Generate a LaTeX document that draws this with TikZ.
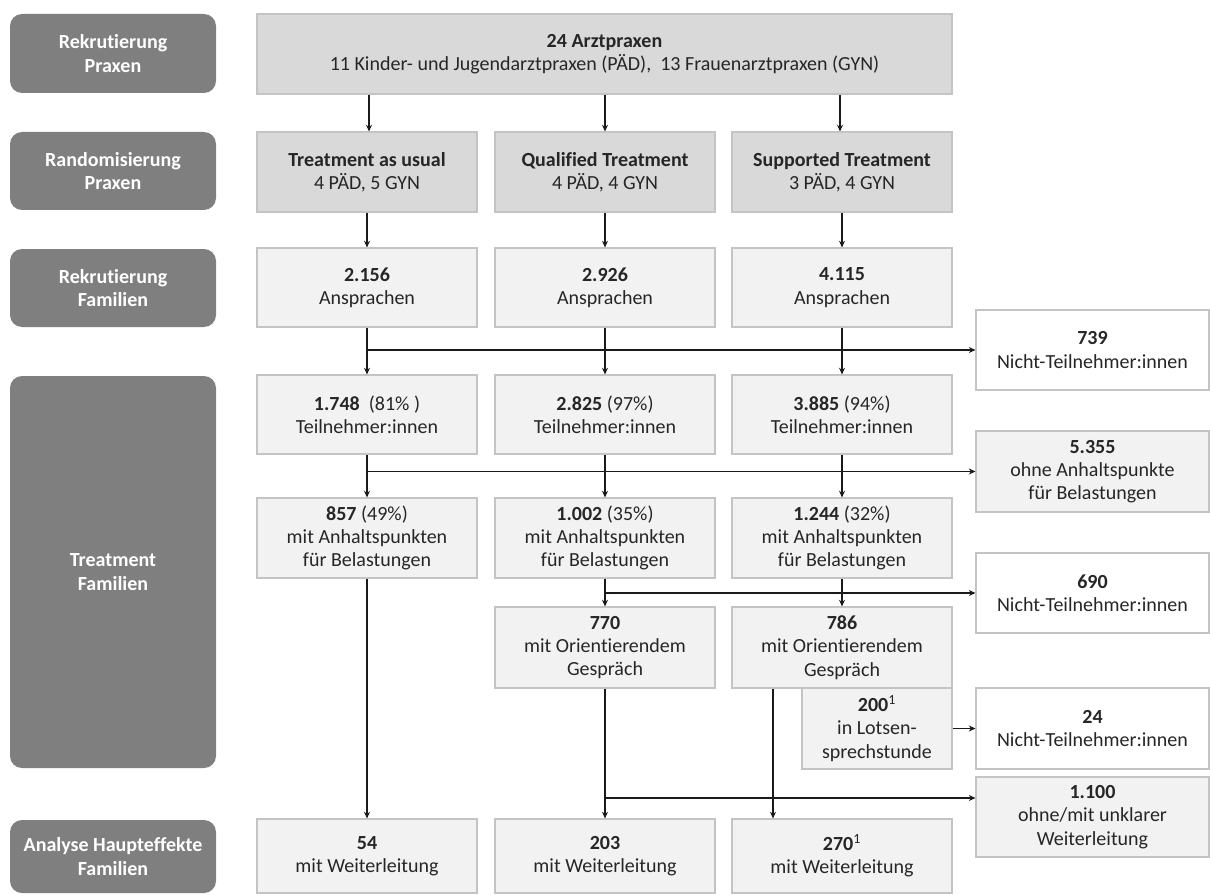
\documentclass[tikz,border=0pt]{standalone}
\usepackage{fontspec}
\setmainfont{Carlito}[Ligatures=NoCommon]
\usetikzlibrary{arrows.meta,calc}
\definecolor{lbl}{HTML}{7F7F7F}
\definecolor{dk}{HTML}{D9D9D9}
\definecolor{lt}{HTML}{F2F2F2}
\definecolor{bd}{HTML}{C4C4C4}
\definecolor{txt}{HTML}{262626}
\definecolor{ln}{HTML}{1A1A1A}
\tikzset{
  base/.style={draw=bd, line width=0.8pt, inner sep=0pt, align=center, text=txt,
    font=\fontsize{15}{17.5}\selectfont},
  lblbox/.style={fill=lbl, draw=none, rounded corners=9pt, inner sep=0pt, align=center,
    text=white, font=\fontsize{15}{17.5}\selectfont\bfseries, minimum width=154.5pt},
  dkbox/.style={base, fill=dk},
  ltbox/.style={base, fill=lt},
  whbox/.style={base, fill=white},
  colw/.style={minimum width=165pt},
  arr/.style={draw=ln, line width=0.9pt, -{Stealth[length=5pt,width=4.5pt]}},
  plain/.style={draw=ln, line width=0.9pt}
}
\begin{document}
\begin{tikzpicture}[x=0.75pt,y=-0.75pt]
\useasboundingbox (0,0) rectangle (1210,895);
% left labels
\node[lblbox, minimum height=59.25pt] (L1) at (113,53.5) {Rekrutierung\\Praxen};
\node[lblbox, minimum height=58.5pt] (L2) at (113,171) {Randomisierung\\Praxen};
\node[lblbox, minimum height=58.5pt] (L3) at (113,288) {Rekrutierung\\Familien};
\node[lblbox, minimum height=294pt] (L4) at (113,572) {Treatment\\Familien};
\node[lblbox, minimum height=54.75pt] (L5) at (113,856.5) {Analyse Haupteffekte\\Familien};
% top
\node[dkbox, minimum width=521.25pt, minimum height=60pt] (top) at (604.5,54)
  {\textbf{24 Arztpraxen}\\11 Kinder- und Jugendarztpraxen (PÄD),\ \ 13 Frauenarztpraxen (GYN)};
% row 2
\node[dkbox, colw, minimum height=60pt] (a2) at (367,172) {\textbf{Treatment as usual}\\4 PÄD, 5 GYN};
\node[dkbox, colw, minimum height=60pt] (b2) at (605,172) {\textbf{Qualified Treatment}\\4 PÄD, 4 GYN};
\node[dkbox, colw, minimum height=60pt] (c2) at (842,172) {\textbf{Supported Treatment}\\3 PÄD, 4 GYN};
% row 3
\node[ltbox, colw, minimum height=59.25pt] (a3) at (367,287.5) {\textbf{2.156}\\Ansprachen};
\node[ltbox, colw, minimum height=59.25pt] (b3) at (605,287.5) {\textbf{2.926}\\Ansprachen};
\node[ltbox, colw, minimum height=59.25pt] (c3) at (842,287.5) {\textbf{4.115}\\Ansprachen};
\node[whbox, minimum width=174.75pt, minimum height=60pt] (r739) at (1092.5,350) {\textbf{739}\\Nicht-Teilnehmer:innen};
% row 4
\node[ltbox, colw, minimum height=59.25pt] (a4) at (367,414.5) {\textbf{1.748}\ \ (81\% )\\Teilnehmer:innen};
\node[ltbox, colw, minimum height=59.25pt] (b4) at (605,414.5) {\textbf{2.825} (97\%)\\Teilnehmer:innen};
\node[ltbox, colw, minimum height=59.25pt] (c4) at (842,414.5) {\textbf{3.885} (94\%)\\Teilnehmer:innen};
\node[ltbox, minimum width=174.75pt, minimum height=60.75pt] (r5355) at (1092.5,471.5) {\textbf{5.355}\\ohne Anhaltspunkte\\für Belastungen};
% row 5
\node[ltbox, colw, minimum height=60pt] (a5) at (367,538) {\textbf{857} (49\%)\\mit Anhaltspunkten\\für Belastungen};
\node[ltbox, colw, minimum height=60pt] (b5) at (605,538) {\textbf{1.002} (35\%)\\mit Anhaltspunkten\\für Belastungen};
\node[ltbox, colw, minimum height=60pt] (c5) at (842,538) {\textbf{1.244} (32\%)\\mit Anhaltspunkten\\für Belastungen};
\node[whbox, minimum width=174.75pt, minimum height=60pt] (r690) at (1092.5,593) {\textbf{690}\\Nicht-Teilnehmer:innen};
% row 6
\node[ltbox, colw, minimum height=60.75pt] (b6) at (605,647.5) {\textbf{770}\\mit Orientierendem\\Gespräch};
\node[ltbox, colw, minimum height=60.75pt] (c6) at (842,647.5) {\textbf{786}\\mit Orientierendem\\Gespräch};
\node[ltbox, minimum width=112.5pt, minimum height=60.75pt] (b200) at (877,728.5) {\textbf{200}\textsuperscript{1}\\in Lotsen-\\sprechstunde};
\node[whbox, minimum width=174.75pt, minimum height=60.75pt] (r24) at (1092.5,728.5) {\textbf{24}\\Nicht-Teilnehmer:innen};
\node[ltbox, minimum width=174.75pt, minimum height=60pt] (r1100) at (1092.5,817) {\textbf{1.100}\\ohne/mit unklarer\\Weiterleitung};
% row 7
\node[ltbox, colw, minimum height=55.5pt] (a7) at (367,856) {\textbf{54}\\mit Weiterleitung};
\node[ltbox, colw, minimum height=55.5pt] (b7) at (605,856) {\textbf{203}\\mit Weiterleitung};
\node[ltbox, colw, minimum height=55.5pt] (c7) at (842,856) {\textbf{270}\textsuperscript{1}\\mit Weiterleitung};
% coordinates
\coordinate (br4) at (605,798);
\coordinate (cx) at (773,0);
% connectors
\draw[arr] (top.south -| 369,0) -- (a2.north -| 369,0);
\draw[arr] (top.south -| b2) -- (b2.north);
\draw[arr] (top.south -| 840,0) -- (c2.north -| 840,0);
\draw[arr] (a2) -- (a3);
\draw[arr] (b2) -- (b3);
\draw[arr] (c2) -- (c3);
\draw[arr] (a3) -- (a4);
\draw[arr] (b3) -- (b4);
\draw[arr] (c3) -- (c4);
\draw[arr] (a3.south |- r739.west) -- (r739.west);
\draw[arr] (a4) -- (a5);
\draw[arr] (b4) -- (b5);
\draw[arr] (c4) -- (c5);
\draw[arr] (a4.south |- r5355.west) -- (r5355.west);
\draw[arr] (b5) -- (b6);
\draw[arr] (c5) -- (c6);
\draw[arr] (b5.south |- r690.west) -- (r690.west);
\draw[arr] (a5) -- (a7);
\draw[arr] (b6) -- (b7);
\draw[arr] (c6.south -| cx) -- (c7.north -| cx);
\draw[arr] (br4) -- (r1100.west |- br4);
\draw[arr] (b200.east) -- (r24.west);
\end{tikzpicture}
\end{document}
